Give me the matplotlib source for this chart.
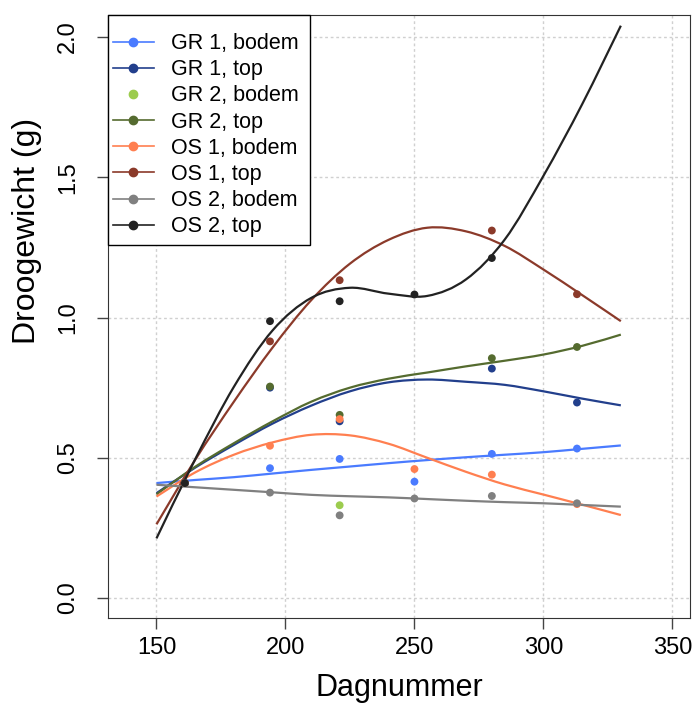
import matplotlib.pyplot as plt
from matplotlib.patches import Rectangle, PathPatch
from matplotlib.path import Path
import numpy as np

plt.rcParams["font.family"] = ["Liberation Sans", "DejaVu Sans"]

# dagnummers van de metingen
dagen = [161, 194, 221, 250, 280, 313]

# droog gewicht per reeks (None = geen meting)
gr1_bodem = [0.41, 0.463, 0.496, 0.415, 0.514, 0.533]
gr1_top = [0.41, 0.750, 0.630, None, 0.818, 0.697]
gr2_bodem = [0.41, None, 0.331, None, None, None]
gr2_top = [0.41, 0.754, 0.653, None, 0.855, 0.895]
os1_bodem = [0.41, 0.543, 0.638, 0.460, 0.440, 0.335]
os1_top = [0.41, 0.915, 1.133, None, 1.310, 1.083]
os2_bodem = [0.41, 0.376, 0.295, 0.355, 0.364, 0.338]
os2_top = [0.41, 0.987, 1.058, 1.082, 1.212, None]

trend_dagen = [150, 165, 180, 195, 210, 225, 240, 255, 270, 285, 300, 315, 330]
gr1_bodem_trend = [0.410, 0.421, 0.431, 0.444, 0.457, 0.469, 0.481,
                   0.492, 0.502, 0.511, 0.520, 0.532, 0.544]
gr1_top_trend = [0.374, 0.465, 0.546, 0.622, 0.686, 0.737, 0.769,
                 0.779, 0.771, 0.760, 0.737, 0.711, 0.687]
gr2_bodem_trend = None
gr2_top_trend = [0.370, 0.468, 0.552, 0.630, 0.700, 0.750, 0.782,
                 0.804, 0.826, 0.846, 0.868, 0.899, 0.939]
os1_bodem_trend = [0.362, 0.448, 0.511, 0.555, 0.582, 0.580, 0.550,
                   0.500, 0.450, 0.405, 0.369, 0.333, 0.296]
os1_top_trend = [0.263, 0.493, 0.700, 0.893, 1.062, 1.192, 1.277,
                 1.320, 1.307, 1.255, 1.171, 1.080, 0.987]
os2_bodem_trend = [0.404, 0.395, 0.386, 0.377, 0.368, 0.363, 0.359,
                   0.353, 0.347, 0.342, 0.338, 0.332, 0.326]
os2_top_trend = [0.213, 0.495, 0.753, 0.954, 1.070, 1.106, 1.085,
                 1.077, 1.136, 1.278, 1.505, 1.760, 2.040]

namen = ["GR 1, bodem", "GR 1, top", "GR 2, bodem", "GR 2, top",
         "OS 1, bodem", "OS 1, top", "OS 2, bodem", "OS 2, top"]
reeksen = [gr1_bodem, gr1_top, gr2_bodem, gr2_top,
           os1_bodem, os1_top, os2_bodem, os2_top]
trends = [gr1_bodem_trend, gr1_top_trend, gr2_bodem_trend, gr2_top_trend,
          os1_bodem_trend, os1_top_trend, os2_bodem_trend, os2_top_trend]
kleuren = ["#4a7bff", "#223f8c", "#9ccc4e", "#556b2f",
           "#ff7f50", "#8b3a2a", "#808080", "#222222"]


def vloeiend_pad(x, y):
    # Catmull-Rom door de punten, als Bezier-pad
    p = np.column_stack([x, y]).astype(float)
    p = np.vstack([p[0], p, p[-1]])
    verts = [p[1]]
    codes = [Path.MOVETO]
    for i in range(1, len(p) - 2):
        c1 = p[i] + (p[i + 1] - p[i - 1]) / 6
        c2 = p[i + 1] - (p[i + 2] - p[i]) / 6
        verts += [c1, c2, p[i + 1]]
        codes += [Path.CURVE4] * 3
    return Path(verts, codes)


fig = plt.figure(figsize=(6.94, 7.09), dpi=100)
ax = fig.add_axes([0.1556, 0.1283, 0.8386, 0.8505])

for naam, y, trend, kleur in zip(namen, reeksen, trends, kleuren):
    x = [d for d, v in zip(dagen, y) if v is not None]
    v = [w for w in y if w is not None]
    if trend is not None:
        ax.add_patch(PathPatch(vloeiend_pad(trend_dagen, trend), fill=False,
                               edgecolor=kleur, lw=1.6, zorder=2))
        ax.plot([], [], color=kleur, lw=1.2, marker="o", ms=6, label=naam)
    else:
        ax.plot([], [], color=kleur, ls="none", marker="o", ms=6, label=naam)
    ax.scatter(x, v, color=kleur, s=32, zorder=3, edgecolors="none")

ax.set_xlim(131.2, 356.8)
ax.set_ylim(-0.071, 2.078)
ax.set_xticks([150, 200, 250, 300, 350])
ax.set_yticks([0.0, 0.5, 1.0, 1.5, 2.0])
ax.set_yticklabels(["0.0", "0.5", "1.0", "1.5", "2.0"], rotation=90, va="center")
ax.tick_params(labelsize=17, length=8, width=1, color="#444444")
ax.tick_params(axis="x", pad=6)
ax.tick_params(axis="y", pad=13)
ax.grid(color="#d0d0d0", linestyle=(0, (2, 2)), linewidth=1)
ax.set_axisbelow(True)
for s in ax.spines.values():
    s.set_color("#333333")

ax.set_xlabel("Dagnummer", fontsize=22, labelpad=10)
ax.set_ylabel("Droogewicht (g)", fontsize=23)
ax.yaxis.set_label_coords(-0.113, 0.642)

# legenda-kader in de linkerbovenhoek
ax.add_patch(Rectangle((0, 0.619), 0.347, 0.381, transform=ax.transAxes,
                       facecolor="white", edgecolor="black", lw=1.0,
                       zorder=4, clip_on=False))
leg = ax.legend(loc="upper left", bbox_to_anchor=(0.0086, 0.970),
                borderaxespad=0, borderpad=0, frameon=False,
                prop={"size": 15.5}, handlelength=1.9, labelspacing=0.24,
                handletextpad=0.8)
leg.set_zorder(5)

fig.savefig("out.png", dpi=100)
plt.close()
